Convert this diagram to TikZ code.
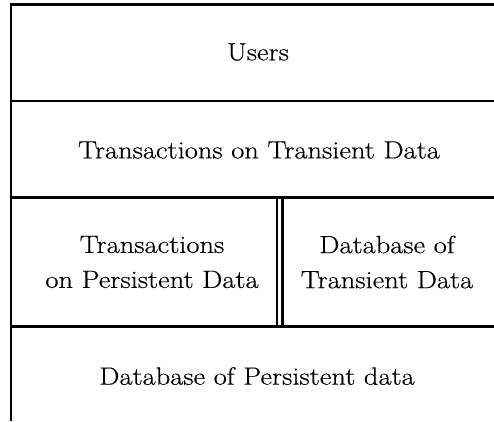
\documentclass[tikz,border=0pt]{standalone}
\usepackage{fontspec}
\setmainfont{Latin Modern Roman}
\newfontfamily\lblfont{Latin Modern Roman}[FakeStretch=1.14,FakeBold=0.4]
\begin{document}
\begin{tikzpicture}[x=1pt,y=-1pt,
  rule/.style={line width=2.6pt},
  thinrule/.style={line width=2.2pt},
  lbl/.style={font=\lblfont\fontsize{25}{35}\selectfont, align=center, inner sep=0pt}]
\useasboundingbox (0,0) rectangle (494,421);
% frame lines
\draw[rule] (11,421) -- (11,4.5) -- (494,4.5);
\draw[rule] (11,101) -- (494,101);
\draw[rule] (11,197.5) -- (494,197.5);
\draw[rule] (11,326.5) -- (494,326.5);
\draw[thinrule] (277,197.5) -- (277,326.5);
\draw[thinrule] (282.5,197.5) -- (282.5,326.5);
% labels
\node[lbl] (users) at (258,52) {Users};
\node[lbl] (ttd) at (259,150) {Transactions on Transient Data};
\node[lbl] (tpd) at (152,262) {Transactions\\on Persistent Data};
\node[lbl] (dtd) at (387,262) {Database of\\Transient Data};
\node[lbl] (dpd) at (257,376) {Database of Persistent data};
\end{tikzpicture}
\end{document}
